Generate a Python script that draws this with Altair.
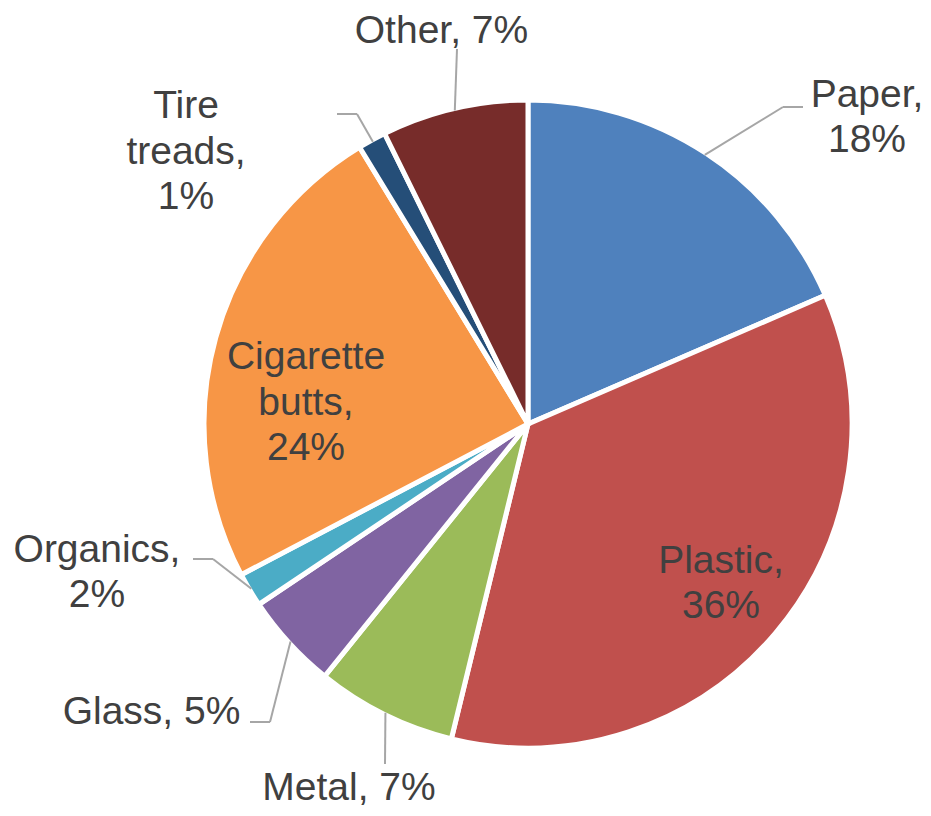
import math
import altair as alt
import pandas as pd

# ---- data ----
categories = ["Paper", "Plastic", "Metal", "Glass", "Organics",
              "Cigarette butts", "Tire treads", "Other"]
shares = [18.5, 35.3, 7.0, 4.8, 1.7, 24.0, 1.4, 7.3]
label_texts = ["Paper,\n18%", "Plastic,\n36%", "Metal, 7%", "Glass, 5%",
               "Organics,\n2%", "Cigarette\nbutts,\n24%", "Tire\ntreads,\n1%",
               "Other, 7%"]
colors = ["#4F81BD", "#C0504D", "#9BBB59", "#8064A2", "#4BACC6",
          "#F79646", "#254E78", "#772C2A"]

# ---- layout (chart pixel coordinates; y = first text line) ----
CX, CY, R = 520, 416, 322
label_pos = {
    "Paper": (859, 86.5), "Plastic": (713, 552.5), "Metal": (341, 780),
    "Glass": (143.5, 704), "Organics": (89, 541.5),
    "Cigarette butts": (298, 349), "Tire treads": (178, 98),
    "Other": (433.5, 23),
}
# leader line: elbow point and end point
leaders = {
    "Paper": [(775, 99), (795, 99)],
    "Other": [(449, 41)],
    "Tire treads": [(349, 106), (329, 106)],
    "Organics": [(205, 551), (185, 551)],
    "Glass": [(262, 714), (242, 714)],
    "Metal": [(377, 756)],
}

df = pd.DataFrame({"cat": categories, "value": shares, "idx": range(len(categories))})
df["label"] = label_texts
df["lx"] = [label_pos[c][0] for c in categories]
df["ly"] = [label_pos[c][1] for c in categories]

total = sum(shares)
segs = []
cum = 0.0
for c, v in zip(categories, shares):
    mid = (cum + v / 2) / total * 2 * math.pi
    cum += v
    if c in leaders:
        pts = [(CX + R * math.sin(mid), CY - R * math.cos(mid))] + leaders[c]
        for (x1, y1), (x2, y2) in zip(pts[:-1], pts[1:]):
            segs.append({"x": x1, "y": y1, "x2": x2, "y2": y2})
seg_df = pd.DataFrame(segs)

pie = alt.Chart(df).mark_arc(outerRadius=324, stroke="white", strokeWidth=5).encode(
    theta=alt.Theta("value:Q", stack=True),
    order=alt.Order("idx:Q"),
    color=alt.Color("cat:N", scale=alt.Scale(domain=categories, range=colors), legend=None),
    x=alt.value(CX),
    y=alt.value(CY),
)

lines = alt.Chart(seg_df).mark_rule(color="#A6A6A6", strokeWidth=2).encode(
    x=alt.X("x:Q", scale=None, axis=None),
    y=alt.Y("y:Q", scale=None, axis=None),
    x2="x2:Q",
    y2="y2:Q",
)

labels = alt.Chart(df).mark_text(
    font="Liberation Sans", fontSize=39, color="#404040", align="center",
    baseline="middle", lineBreak="\n", lineHeight=45.5,
).encode(
    x=alt.X("lx:Q", scale=None, axis=None),
    y=alt.Y("ly:Q", scale=None, axis=None),
    text="label:N",
)

chart = alt.layer(pie, lines, labels).properties(
    width=915, height=800, padding=0,
    autosize=alt.AutoSizeParams(type="none"),
).configure_view(strokeWidth=0)

chart.save("out.html", embed_options={"renderer": "svg", "actions": False})
